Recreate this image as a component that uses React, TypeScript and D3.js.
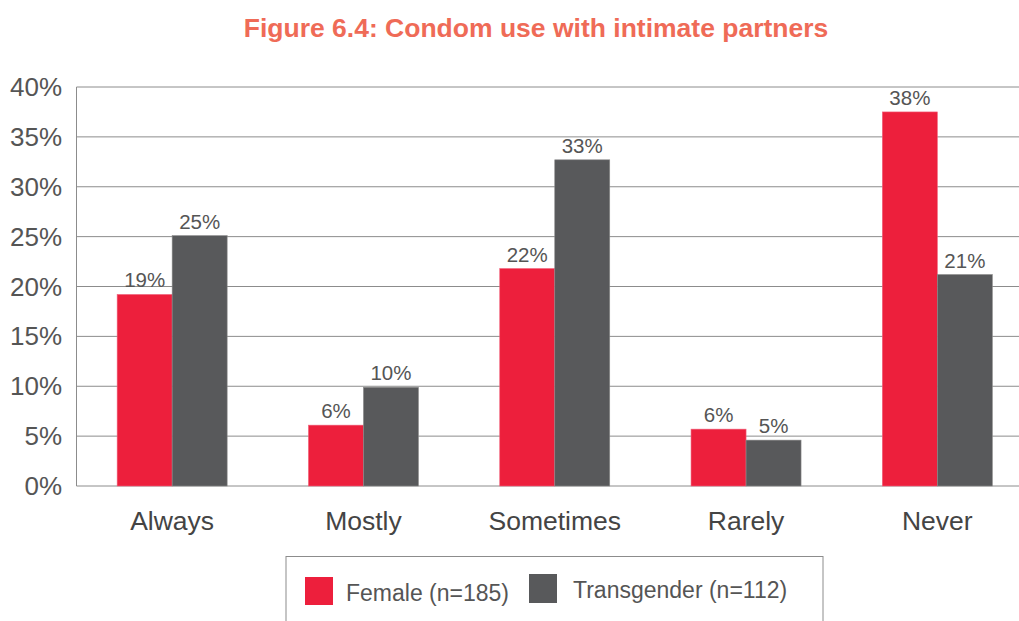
import React from "react";
import * as d3 from "d3";

const categories = ["Always", "Mostly", "Sometimes", "Rarely", "Never"];
const seriesNames = ["Female (n=185)", "Transgender (n=112)"];
const female = [19.2, 6.1, 21.8, 5.7, 37.5];
const transgender = [25.1, 9.9, 32.7, 4.6, 21.2];
const yTicks = [0, 5, 10, 15, 20, 25, 30, 35, 40];
const colors = ["#ED1F3C", "#58595B"];

const W = 1019;
const H = 621;
const FONT = "'Liberation Sans', Arial, sans-serif";

export default function App() {
  const left = 76.5;
  const step = 191.3;
  const x = d3
    .scaleBand<string>()
    .domain(categories)
    .range([left, left + step * categories.length])
    .paddingInner(0.425)
    .paddingOuter(0.2125);
  const xs = d3.scaleBand<string>().domain(seriesNames).range([0, x.bandwidth()]);
  const y = d3.scaleLinear().domain([0, 40]).range([486, 87]);
  const series = [female, transgender];

  return (
    <svg
      width={W}
      height={H}
      style={{ position: "absolute", left: 0, top: 0, background: "#fff" }}
      fontFamily={FONT}
    >
      <text x={536} y={37} textAnchor="middle" fontSize={26.5} fontWeight="bold" fill="#EF6B57">
        Figure 6.4: Condom use with intimate partners
      </text>
      {yTicks.map((t) => (
        <g key={t}>
          <line x1={left} x2={W} y1={y(t)} y2={y(t)} stroke="#8c8c8c" strokeWidth={1} />
          <text x={62} y={y(t) + 9} textAnchor="end" fontSize={26} fill="#555">
            {t}%
          </text>
        </g>
      ))}
      <line x1={left} x2={left} y1={y(40)} y2={y(0)} stroke="#8c8c8c" strokeWidth={1} />
      {categories.map((c, i) => (
        <g key={c}>
          {series.map((s, j) => {
            const bx = (x(c) as number) + (xs(seriesNames[j]) as number);
            const v = s[i];
            return (
              <g key={j}>
                <rect
                  x={bx}
                  y={y(v)}
                  width={xs.bandwidth()}
                  height={y(0) - y(v)}
                  fill={colors[j]}
                  stroke={j === 0 ? "#f0607a" : "#8a8a8a"}
                  strokeWidth={0.6}
                />
                <text
                  x={bx + xs.bandwidth() / 2}
                  y={y(v) - 7}
                  textAnchor="middle"
                  fontSize={20.5}
                  fill="#555"
                >
                  {Math.round(v)}%
                </text>
              </g>
            );
          })}
          <text
            x={(x(c) as number) + x.bandwidth() / 2}
            y={530}
            textAnchor="middle"
            fontSize={26.5}
            fill="#444"
          >
            {c}
          </text>
        </g>
      ))}
      <rect x={286} y={556.5} width={537} height={80} fill="none" stroke="#8c8c8c" strokeWidth={1} />
      <rect x={305} y={577} width={28} height={28} fill={colors[0]} />
      <text x={346} y={601} fontSize={23} fill="#555">
        {seriesNames[0]}
      </text>
      <rect x={529} y={574} width={28} height={29} fill={colors[1]} />
      <text x={573} y={598} fontSize={23} fill="#555">
        {seriesNames[1]}
      </text>
    </svg>
  );
}
